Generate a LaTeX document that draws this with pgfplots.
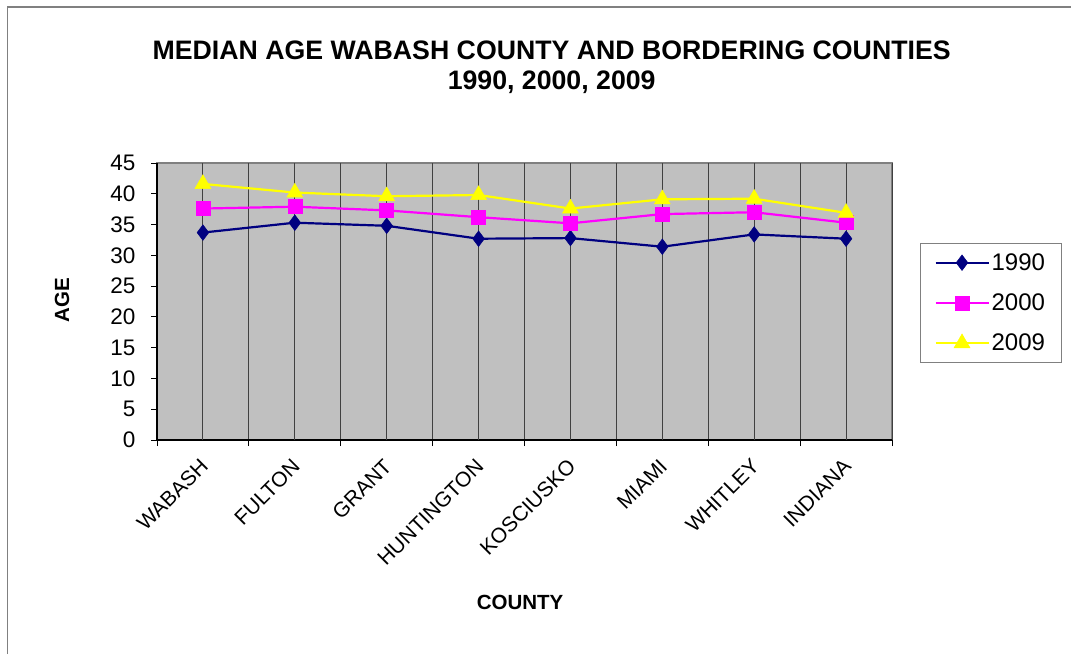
\documentclass[border=0pt]{standalone}
\usepackage{fontspec}
\setmainfont{Liberation Sans}
\usepackage{pgfplots}
\pgfplotsset{compat=1.18}
\definecolor{bgc}{HTML}{C0C0C0}
\definecolor{navyc}{HTML}{000080}
\definecolor{magc}{HTML}{FF00FF}
\definecolor{yelc}{HTML}{FFFF00}
\definecolor{gridc}{HTML}{404040}
\definecolor{framec}{HTML}{808080}
\begin{document}
\begin{tikzpicture}
\useasboundingbox (0pt,0pt) rectangle (1071pt,654pt);
\draw[framec, line width=1.2pt] (7.5pt,0pt) -- (7.5pt,647pt) -- (1071pt,647pt);
\begin{axis}[
  at={(157pt,214pt)}, anchor=south west,
  scale only axis, width=735pt, height=277pt,
  xmin=-0.5, xmax=7.5, ymin=0, ymax=45,
  axis background/.style={fill=bgc, draw=framec, line width=1.5pt},
  axis x line*=bottom, axis y line*=left,
  axis line style={-, black, line width=1.4pt},
  xtick={-0.5,0.5,...,7.5}, xticklabels={},
  extra x ticks={0,1,2,3,4,5,6,7},
  extra x tick labels={WABASH,FULTON,GRANT,HUNTINGTON,KOSCIUSKO,MIAMI,WHITLEY,INDIANA},
  extra x tick style={major tick length=0pt, xticklabel style={xshift=-4pt, yshift=-16pt, rotate=45, anchor=north east, inner sep=1pt, font=\fontsize{21}{25}\selectfont}},
  xmajorgrids=true,
  major grid style={gridc, line width=0.9pt},
  ytick={0,5,...,45},
  tick align=outside, major tick length=6pt,
  tick style={black, line width=0.9pt},
  /pgf/number format/assume math mode=true,
  ticklabel style={font=\fontsize{22.5}{26}\selectfont},
  yticklabel style={xshift=-12pt},
  title={MEDIAN AGE WABASH COUNTY AND BORDERING COUNTIES\\1990, 2000, 2009},
  title style={font=\fontsize{26.7}{30}\selectfont\bfseries, align=center, at={(0.537,1.325)}, anchor=center},
  xlabel={COUNTY},
  xlabel style={font=\fontsize{20.5}{24}\selectfont\bfseries, at={(0.494,-0.585)}, anchor=center},
  ylabel={AGE},
  ylabel style={font=\fontsize{20.5}{24}\selectfont\bfseries, at={(-0.129,0.505)}, anchor=center, rotate=0},
  legend style={at={(1.038,0.711)}, anchor=north west, draw=framec, line width=1pt,
    font=\fontsize{24}{28}\selectfont, row sep=18pt, inner xsep=14pt, inner ysep=8pt},
  legend cell align=left,
  legend image code/.code={\draw[mark repeat=2,mark phase=2,#1] plot coordinates {(0pt,0pt) (26.5pt,0pt) (53pt,0pt)};},
  clip=false,
]
\addplot[navyc, line width=2.2pt, mark=diamond*, mark size=7.8pt, mark options={solid, fill=navyc, draw=navyc, line width=0.5pt}]
  coordinates {(0,33.7) (1,35.3) (2,34.8) (3,32.7) (4,32.8) (5,31.4) (6,33.4) (7,32.7)};
\addlegendentry{1990}
\addplot[magc, line width=2.2pt, mark=square*, mark size=7pt, mark options={solid, fill=magc, draw=magc, line width=0.5pt}]
  coordinates {(0,37.6) (1,37.9) (2,37.3) (3,36.2) (4,35.2) (5,36.7) (6,37.0) (7,35.3)};
\addlegendentry{2000}
\addplot[yelc, line width=2.2pt, mark=triangle*, mark size=9.2pt, mark options={solid, fill=yelc, draw=yelc, line width=0.5pt}]
  coordinates {(0,41.6) (1,40.2) (2,39.6) (3,39.8) (4,37.6) (5,39.1) (6,39.2) (7,36.9)};
\addlegendentry{2009}
\end{axis}
\end{tikzpicture}
\end{document}
